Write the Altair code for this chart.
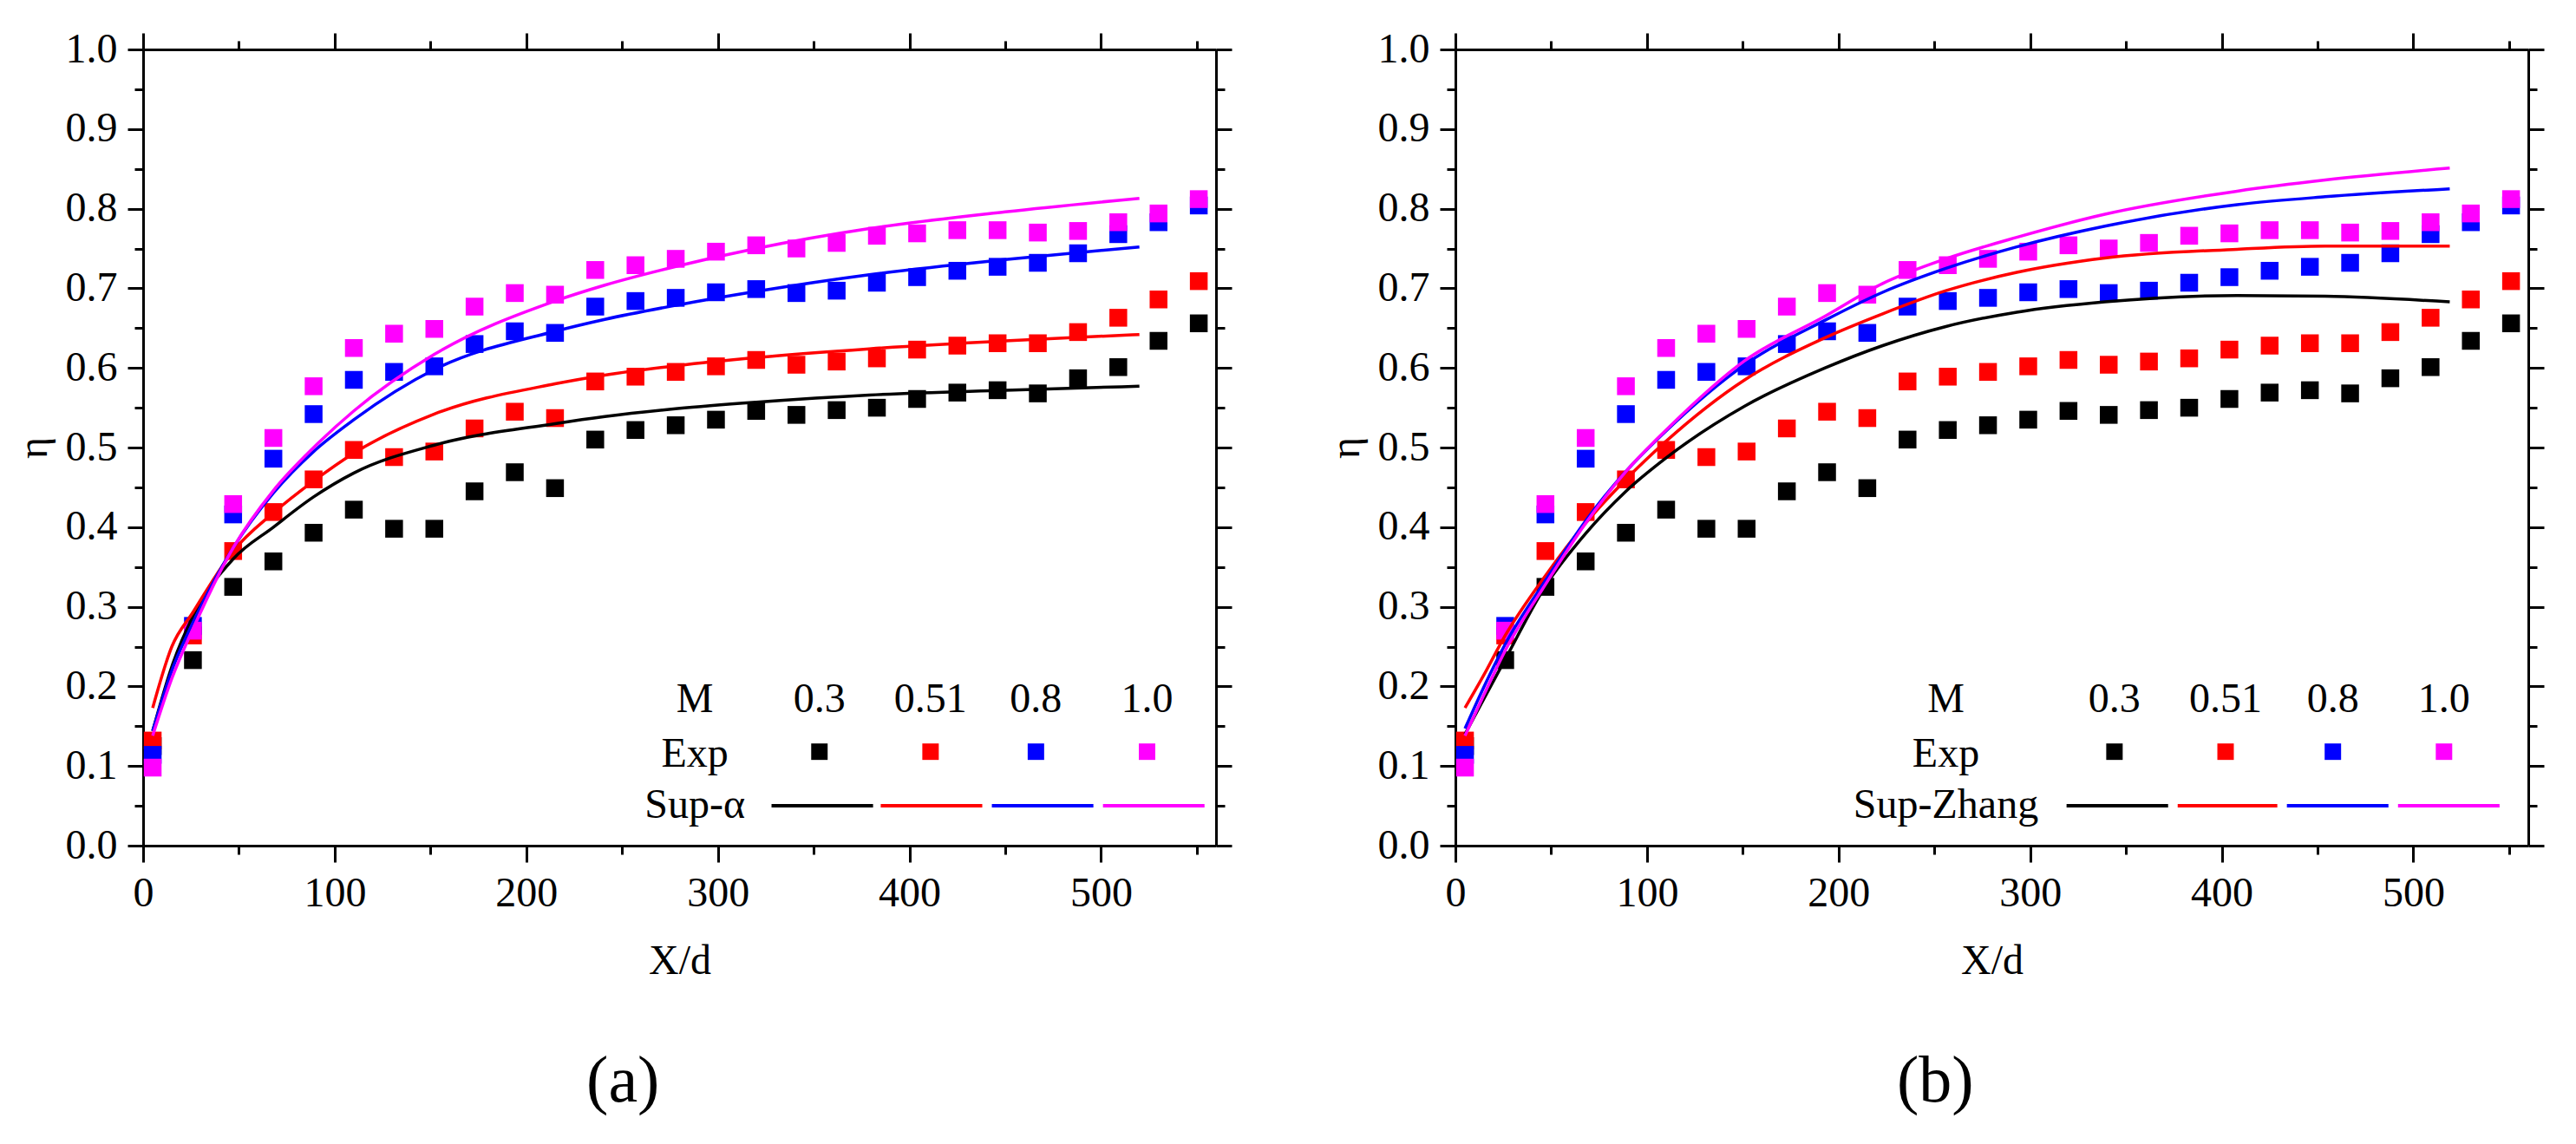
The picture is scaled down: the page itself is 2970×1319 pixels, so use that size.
import altair as alt
import pandas as pd

# ---- values ----
m_labels = ["0.3", "0.51", "0.8", "1.0"]
m_colors = ["#000000", "#ff0000", "#0000ff", "#ff00ff"]

# experimental points (same in both panels)
x_exp = [5, 26, 47, 68, 89, 110, 131, 152, 173, 194, 215, 236, 257, 278,
         299, 320, 341, 362, 383, 404, 425, 446, 467, 488, 509, 530, 551]
exp_m03 = [0.125, 0.233, 0.325, 0.357, 0.393, 0.422, 0.398, 0.398, 0.445, 0.469,
           0.449, 0.510, 0.522, 0.528, 0.535, 0.546, 0.541, 0.547, 0.550, 0.561,
           0.569, 0.572, 0.568, 0.587, 0.601, 0.634, 0.656]
exp_m051 = [0.132, 0.264, 0.370, 0.419, 0.460, 0.497, 0.488, 0.495, 0.524, 0.545,
            0.537, 0.583, 0.589, 0.595, 0.602, 0.610, 0.604, 0.608, 0.612, 0.623,
            0.628, 0.631, 0.631, 0.645, 0.663, 0.686, 0.709]
exp_m08 = [0.114, 0.276, 0.416, 0.486, 0.542, 0.585, 0.595, 0.602, 0.630, 0.646,
           0.644, 0.677, 0.684, 0.688, 0.695, 0.699, 0.694, 0.697, 0.707, 0.714,
           0.722, 0.727, 0.732, 0.744, 0.768, 0.783, 0.804]
exp_m10 = [0.098, 0.270, 0.429, 0.512, 0.577, 0.625, 0.643, 0.649, 0.677, 0.694,
           0.692, 0.723, 0.729, 0.737, 0.746, 0.754, 0.750, 0.757, 0.766, 0.769,
           0.773, 0.773, 0.770, 0.772, 0.783, 0.794, 0.812]

# panel (a): Sup-alpha curves
x_sup_alpha = [5, 15, 26, 47, 68, 89, 110, 152, 215, 241, 279, 320, 379, 450, 520]
sup_alpha_m03 = [0.144, 0.225, 0.288, 0.360, 0.400, 0.438, 0.468, 0.503, 0.530,
                 0.539, 0.549, 0.557, 0.566, 0.572, 0.577]
sup_alpha_m051 = [0.173, 0.250, 0.293, 0.370, 0.418, 0.458, 0.493, 0.542, 0.580,
                  0.591, 0.603, 0.613, 0.624, 0.634, 0.642]
sup_alpha_m08 = [0.144, 0.220, 0.280, 0.374, 0.443, 0.495, 0.535, 0.598, 0.646,
                 0.661, 0.679, 0.696, 0.717, 0.736, 0.752]
sup_alpha_m10 = [0.138, 0.210, 0.272, 0.374, 0.446, 0.500, 0.546, 0.617, 0.684,
                 0.704, 0.728, 0.750, 0.775, 0.796, 0.813]

# panel (b): Sup-Zhang curves
x_sup_zhang = [5, 15, 26, 47, 68, 89, 110, 151, 193, 223, 256, 293, 339, 408, 454, 519]
sup_zhang_m03 = [0.140, 0.185, 0.234, 0.326, 0.392, 0.445, 0.487, 0.552, 0.600,
                 0.628, 0.652, 0.670, 0.683, 0.691, 0.690, 0.683]
sup_zhang_m051 = [0.173, 0.215, 0.264, 0.339, 0.405, 0.460, 0.508, 0.585, 0.638,
                  0.668, 0.697, 0.720, 0.738, 0.749, 0.753, 0.753]
sup_zhang_m08 = [0.147, 0.200, 0.253, 0.333, 0.408, 0.470, 0.521, 0.604, 0.660,
                 0.695, 0.725, 0.752, 0.778, 0.805, 0.815, 0.825]
sup_zhang_m10 = [0.138, 0.190, 0.245, 0.328, 0.405, 0.470, 0.522, 0.609, 0.665,
                 0.706, 0.737, 0.764, 0.793, 0.822, 0.836, 0.851]

x_ticks = list(range(0, 551, 50))
y_ticks = [round(i * 0.05, 2) for i in range(21)]

# ---- styling ----
FONT = "Liberation Serif"
W, H = 1237, 918

x_scale = alt.Scale(domain=[0, 560], nice=False, zero=False)
y_scale = alt.Scale(domain=[0, 1], nice=False)
color_scale = alt.Scale(domain=m_labels, range=m_colors)

axis_style = dict(
    domainColor="black", domainWidth=3, tickColor="black", tickWidth=3,
    grid=False, labelFont=FONT, labelFontSize=48, labelColor="black",
    titleFont=FONT, titleFontSize=48, titleFontWeight="normal",
    titleColor="black", labelFlush=False, labelOverlap=False,
)
x_major = "datum.value % 100 === 0"
y_major = "round(datum.value * 100) % 10 === 0"


def x_axis(orient, labels):
    return alt.Axis(
        orient=orient, values=x_ticks, labels=labels,
        tickSize={"condition": {"test": x_major, "value": 19}, "value": 10},
        labelExpr=f"{x_major} ? format(datum.value, 'd') : ''",
        labelPadding=12, titlePadding=30, **axis_style)


def y_axis(orient, labels):
    return alt.Axis(
        orient=orient, values=y_ticks, labels=labels,
        tickSize={"condition": {"test": y_major, "value": 18}, "value": 10},
        labelExpr=f"{y_major} ? format(datum.value, '.1f') : ''",
        labelPadding=12, titlePadding=12, **axis_style)


def long_table(xs, series):
    rows = []
    for m, ys in zip(m_labels, series):
        rows += [{"x": x, "eta": y, "M": m} for x, y in zip(xs, ys)]
    return pd.DataFrame(rows)


exp_df = long_table(x_exp, [exp_m03, exp_m051, exp_m08, exp_m10])


def panel(curve_df, sup_label, lay, caption):
    color = alt.Color("M:N", scale=color_scale, legend=None)
    lx = alt.X("lx:Q", scale=x_scale, axis=None)
    ly = alt.Y("ly:Q", scale=y_scale, axis=None)

    points = alt.Chart(exp_df).mark_square(size=420, opacity=1).encode(
        x=alt.X("x:Q", scale=x_scale, axis=x_axis("bottom", True), title="X/d"),
        y=alt.Y("eta:Q", scale=y_scale, axis=y_axis("left", True), title="η"),
        color=color,
    )
    lines = alt.Chart(curve_df).mark_line(strokeWidth=3.5, interpolate="monotone").encode(
        x=alt.X("x:Q", scale=x_scale, axis=x_axis("top", False), title=None),
        y=alt.Y("eta:Q", scale=y_scale, axis=y_axis("right", False), title=None),
        color=color,
    )

    # legend drawn as a small table inside the plot
    text_df = pd.DataFrame({
        "lx": [lay["label_x"]] + lay["col_x"] + [lay["label_x"]] * 2,
        "ly": [lay["head_y"]] * 5 + [lay["exp_y"], lay["sup_y"]],
        "txt": ["M"] + m_labels + ["Exp", sup_label],
    })
    texts = alt.Chart(text_df).mark_text(
        font=FONT, fontSize=48, baseline="alphabetic", align="center", color="black"
    ).encode(x=lx, y=ly, text="txt:N")

    sq_df = pd.DataFrame({"lx": lay["col_x"], "ly": lay["sq_y"], "M": m_labels})
    squares = alt.Chart(sq_df).mark_square(size=360, opacity=1).encode(
        x=lx, y=ly, color=color)

    rule_df = pd.DataFrame({"lx": lay["line_x0"], "lx2": lay["line_x1"],
                            "ly": lay["line_y"], "M": m_labels})
    rules = alt.Chart(rule_df).mark_rule(strokeWidth=4).encode(
        x=lx, x2="lx2:Q", y=ly, color=color)

    return alt.layer(points, lines, texts, squares, rules).resolve_axis(
        x="independent", y="independent"
    ).properties(
        width=W, height=H,
        title=alt.TitleParams(caption, orient="bottom", anchor="middle", frame="bounds",
                              offset=78, font=FONT, fontSize=76,
                              fontWeight="normal", color="black"),
    )


legend_a = dict(label_x=288, col_x=[353, 411, 466, 524],
                line_x0=[328, 385, 443, 501], line_x1=[381, 438, 496, 554],
                head_y=0.168, exp_y=0.099, sq_y=0.118, sup_y=0.035, line_y=0.050)
legend_b = dict(label_x=256, col_x=[344, 402, 458, 516],
                line_x0=[319, 377, 434, 492], line_x1=[372, 429, 487, 545],
                head_y=0.168, exp_y=0.099, sq_y=0.118, sup_y=0.035, line_y=0.050)

panel_a = panel(long_table(x_sup_alpha, [sup_alpha_m03, sup_alpha_m051,
                                         sup_alpha_m08, sup_alpha_m10]),
                "Sup-α", legend_a, "(a)")
panel_b = panel(long_table(x_sup_zhang, [sup_zhang_m03, sup_zhang_m051,
                                         sup_zhang_m08, sup_zhang_m10]),
                "Sup-Zhang", legend_b, "(b)")

chart = alt.hconcat(panel_a, panel_b, spacing=106).properties(
    padding={"left": 7, "top": 25, "right": 5, "bottom": 5},
    background="white",
).configure_view(strokeWidth=0)

chart.save("out.html", embed_options={"renderer": "svg", "actions": False})
